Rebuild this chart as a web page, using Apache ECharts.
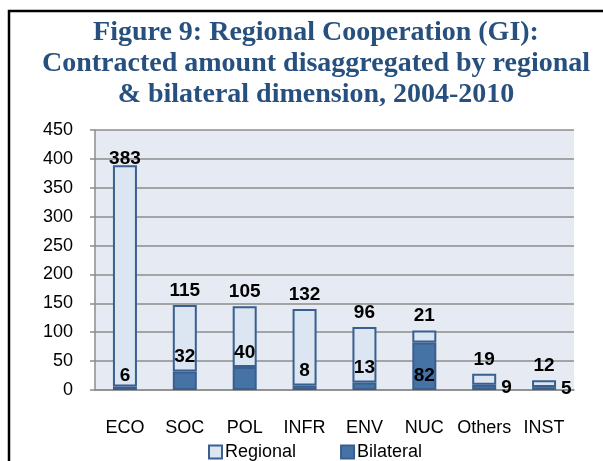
<!DOCTYPE html>
<html>
	<head>
		<title>Figure 9: Regional Cooperation (GI)</title>
        <meta charset="utf-8">
        <script src="https://cdn.jsdelivr.net/npm/echarts@6/dist/echarts.min.js"></script>
	</head>
	<body style="margin:0;">
        <div id="main" style="width: 603px; height:461px;"></div>
	</body>
</html>

<script type="text/javascript">
    var categories = ['ECO', 'SOC', 'POL', 'INFR', 'ENV', 'NUC', 'Others', 'INST'];
    var bilateral = [6, 32, 40, 8, 13, 82, 9, 5];
    var regional = [383, 115, 105, 132, 96, 21, 19, 12];
    var yTicks = [0, 50, 100, 150, 200, 250, 300, 350, 400, 450];

    // where Excel put the bilateral labels
    var bilateralPos = ['insideBottom', 'top', 'top', 'top', 'top', 'insideBottom', 'right', 'right'];

    var labelFont = 'Liberation Sans';
    var myChart = echarts.init(document.getElementById('main'));

    var option = {
        animation: false,
        title: {
            text: 'Figure 9: Regional Cooperation (GI):\nContracted amount disaggregated by regional\n& bilateral dimension, 2004-2010',
            left: 311,
            top: 12,
            textAlign: 'center',
            textStyle: {
                fontFamily: 'Liberation Serif',
                fontWeight: 'bold',
                fontSize: 28,
                lineHeight: 31,
                color: '#27507f'
            }
        },
        graphic: [{
            type: 'rect',
            shape: { x: 9, y: 11, width: 800, height: 800 },
            style: { fill: 'none', stroke: '#000', lineWidth: 2.5 }
        }],
        legend: {
            data: ['Regional', 'Bilateral'],
            left: 203,
            top: 438,
            icon: 'rect',
            itemWidth: 13,
            itemHeight: 13,
            itemGap: 44,
            textStyle: { fontFamily: labelFont, fontSize: 18, color: '#000', padding: [0, 0, 0, -2] }
        },
        grid: {
            left: 95,
            right: 29,
            top: 130,
            bottom: 71,
            show: true,
            backgroundColor: '#e6ebf3',
            borderWidth: 0
        },
        xAxis: {
            type: 'category',
            data: categories,
            axisLine: { lineStyle: { color: '#8c8c8c', width: 1.5 } },
            axisTick: { length: 5, lineStyle: { color: '#8c8c8c', width: 1.5 } },
            axisLabel: { interval: 0, margin: 29, fontFamily: labelFont, fontSize: 18, color: '#000' }
        },
        yAxis: {
            type: 'value',
            min: yTicks[0],
            max: yTicks[yTicks.length - 1],
            interval: yTicks[1] - yTicks[0],
            axisLine: { show: true, lineStyle: { color: '#8c8c8c', width: 1.5 } },
            axisTick: { show: true, length: 5, lineStyle: { color: '#8c8c8c', width: 1.5 } },
            splitLine: { lineStyle: { color: '#8c8c8c', width: 1.5 } },
            axisLabel: { margin: 22, fontFamily: labelFont, fontSize: 18, color: '#000' }
        },
        series: [
            {
                name: 'Bilateral',
                type: 'bar',
                stack: 'total',
                barWidth: 24,
                itemStyle: { color: '#4673a6', borderColor: '#385f8f', borderWidth: 2 },
                label: {
                    show: true,
                    distance: 5,
                    fontFamily: labelFont,
                    fontSize: 19,
                    fontWeight: 'bold',
                    color: '#000'
                },
                data: bilateral.map(function (v, i) {
                    return { value: v, label: { position: bilateralPos[i] } };
                })
            },
            {
                name: 'Regional',
                type: 'bar',
                stack: 'total',
                barWidth: 24,
                itemStyle: { color: '#dce6f2', borderColor: '#385f8f', borderWidth: 2 },
                label: {
                    show: true,
                    position: 'top',
                    distance: 5,
                    fontFamily: labelFont,
                    fontSize: 19,
                    fontWeight: 'bold',
                    color: '#000'
                },
                data: regional.map(function (v, i) {
                    // the 383 label sits on the bar top in the original
                    return i === 0 ? { value: v, label: { distance: -3 } } : v;
                })
            }
        ]
    };

    myChart.setOption(option);
</script>
